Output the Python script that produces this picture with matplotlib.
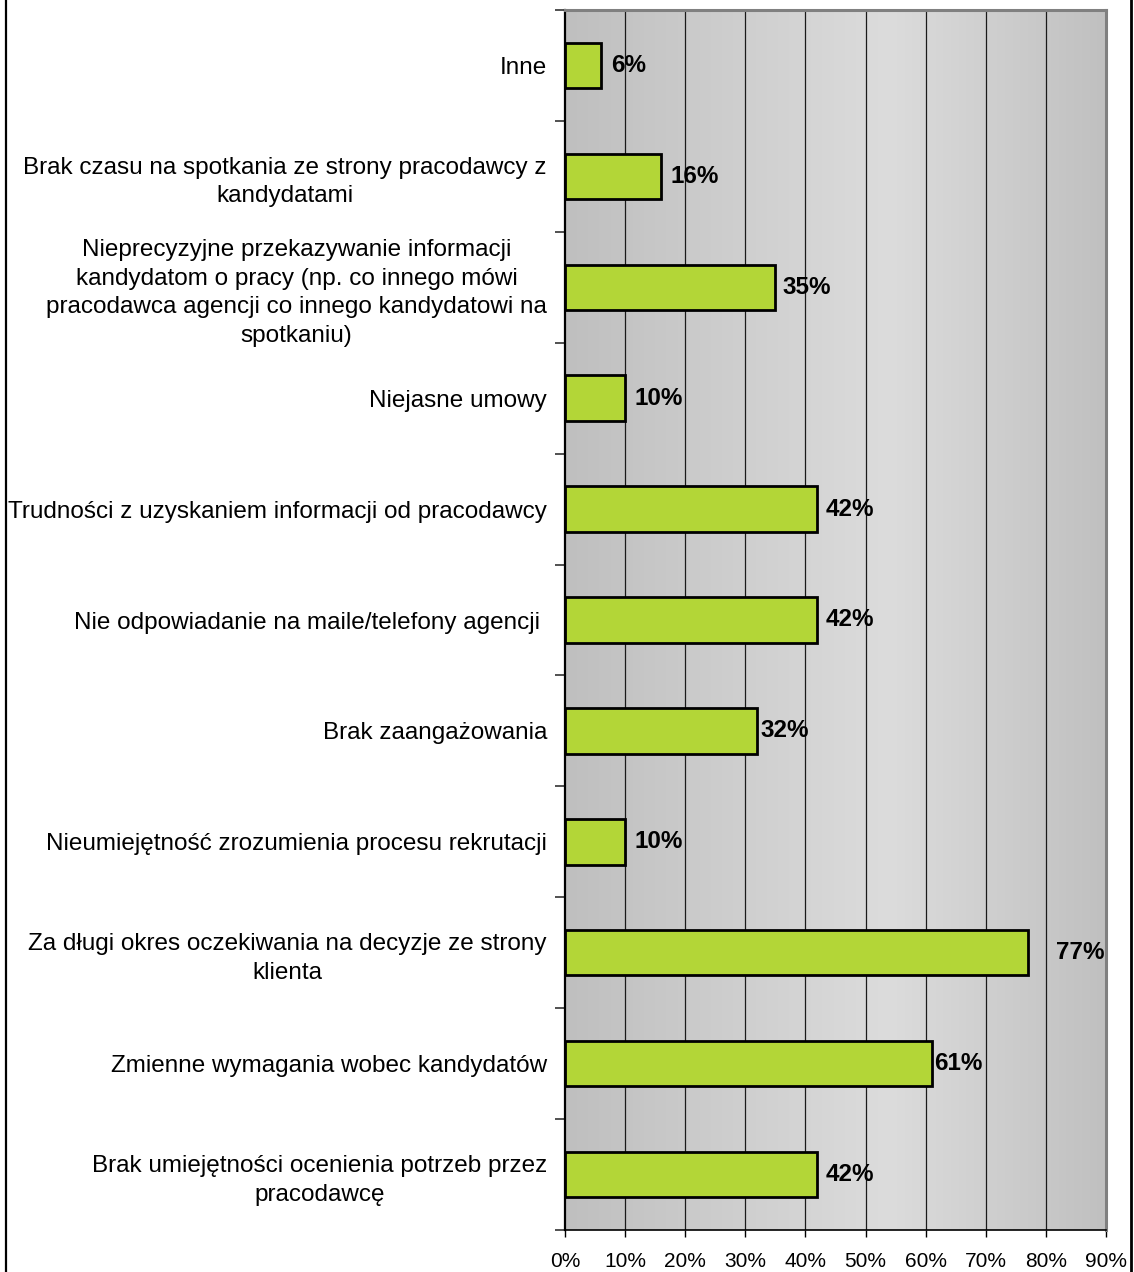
import matplotlib
matplotlib.use("Agg")
import matplotlib.pyplot as plt
import numpy as np
from matplotlib.colors import LinearSegmentedColormap
from matplotlib.lines import Line2D

categories = [
    "Inne",
    "Brak czasu na spotkania ze strony pracodawcy z\nkandydatami",
    "Nieprecyzyjne przekazywanie informacji\nkandydatom o pracy (np. co innego mówi\npracodawca agencji co innego kandydatowi na\nspotkaniu)",
    "Niejasne umowy",
    "Trudności z uzyskaniem informacji od pracodawcy",
    "Nie odpowiadanie na maile/telefony agencji ",
    "Brak zaangażowania",
    "Nieumiejętność zrozumienia procesu rekrutacji",
    "Za długi okres oczekiwania na decyzje ze strony\nklienta",
    "Zmienne wymagania wobec kandydatów",
    "Brak umiejętności ocenienia potrzeb przez\npracodawcę",
]
values = [6, 16, 35, 10, 42, 42, 32, 10, 77, 61, 42]
x_ticks = [0, 10, 20, 30, 40, 50, 60, 70, 80, 90]
x_tick_labels = [f"{t}%" for t in x_ticks]
# label offsets in points (style only)
label_offsets = [7, 7, 5, 7, 6, 6, 2, 7, 20, 2, 6]

plt.rcParams['font.family'] = ['Liberation Sans', 'DejaVu Sans']

W, H = 1134, 1272
fig = plt.figure(figsize=(W / 100, H / 100), dpi=100)
ax = fig.add_axes([565 / W, 1 - 1230 / H, (1106 - 565) / W, (1230 - 10) / H])

n = len(categories)
ypos = np.arange(n)

# gradient background
cmap = LinearSegmentedColormap.from_list(
    "bg", [(0, "#bfbfbf"), (0.6, "#dcdcdc"), (1.0, "#c0c0c0")])
grad = np.linspace(0, 1, 256).reshape(1, -1)
ax.imshow(grad, cmap=cmap, aspect="auto", extent=[0, 90, n - 0.5, -0.5],
          zorder=0, interpolation="bicubic")

ax.set_xlim(0, 90)
ax.set_ylim(n - 0.5, -0.5)

for t in x_ticks[1:-1]:
    ax.axvline(t, color="#1a1a1a", lw=0.9, zorder=1)

ax.barh(ypos, values, height=0.41, color="#b3d637", edgecolor="black",
        linewidth=2.0, zorder=3)

for y, v, off in zip(ypos, values, label_offsets):
    ax.annotate(f"{v}%", xy=(v, y), xytext=(off, 0), textcoords="offset points",
                ha="left", va="center", fontsize=17.5, fontweight="bold",
                color="black", zorder=4)

ax.set_yticks(ypos)
ax.set_yticklabels(categories, fontsize=17.5, multialignment="center",
                   linespacing=1.38)
ax.tick_params(axis="y", which="major", length=0, pad=13)
ax.set_yticks(np.arange(n + 1) - 0.5, minor=True)
ax.tick_params(axis="y", which="minor", length=7, width=1.2, color="#333333",
               direction="out")

ax.set_xticks(x_ticks)
ax.set_xticklabels(x_tick_labels, fontsize=15)
ax.tick_params(axis="x", which="major", length=5, width=1.0, direction="out",
               pad=11)

ax.spines["left"].set_color("black")
ax.spines["left"].set_linewidth(1.6)
ax.spines["bottom"].set_color("black")
ax.spines["bottom"].set_linewidth(1.2)
ax.spines["top"].set_color("#808080")
ax.spines["top"].set_linewidth(2.2)
ax.spines["right"].set_color("#808080")
ax.spines["right"].set_linewidth(2.2)

# figure frame lines (left and right)
fig.add_artist(Line2D([5.5 / W, 5.5 / W], [0, 1], transform=fig.transFigure,
                      color="black", lw=1.6))
fig.add_artist(Line2D([1131 / W, 1131 / W], [0, 1], transform=fig.transFigure,
                      color="black", lw=2.0))

fig.savefig("out.png", dpi=100, facecolor="white")
